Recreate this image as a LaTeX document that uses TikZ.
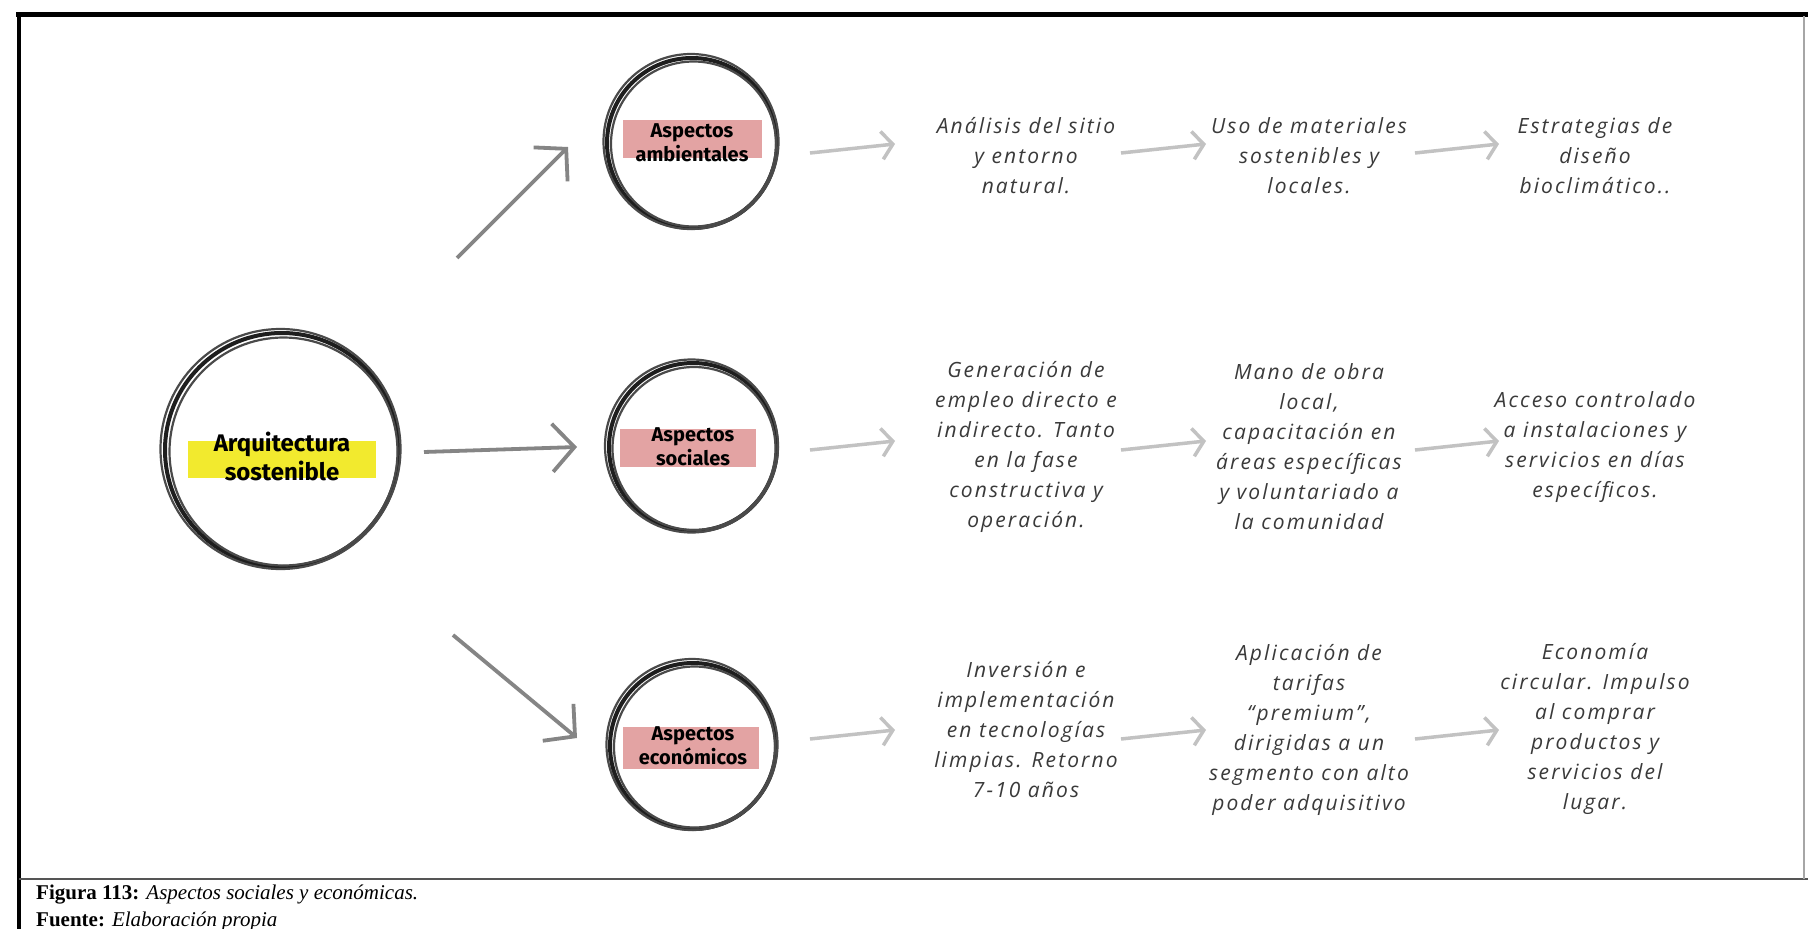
\documentclass[tikz,border=0pt]{standalone}
\usepackage{fontspec}
\setmainfont{Liberation Serif}
\newfontfamily\handfont{Open Sans}[LetterSpace=10]
\newfontfamily\brushfont{Fira Sans}
\usetikzlibrary{arrows.meta}
\definecolor{ringc}{HTML}{1E1E1E}
\definecolor{ringb}{HTML}{4A4A4A}
\definecolor{hlyellow}{HTML}{F2EA2E}
\definecolor{hlpink}{HTML}{E3A3A3}
\definecolor{handc}{HTML}{3A3A3A}
\definecolor{arrowc}{HTML}{858585}
\definecolor{smallc}{HTML}{C2C2C2}
\definecolor{framec}{HTML}{555555}
\begin{document}
\begin{tikzpicture}[x=1pt,y=-1pt,
  ring/.style={circle,draw=ringc,line width=4pt,inner sep=0pt,align=center,
    font=\brushfont\bfseries\fontsize{20}{24}\selectfont},
  bigring/.style={circle,draw=ringc,line width=4pt,inner sep=0pt},
  bigtext/.style={inner sep=0pt,align=center,font=\brushfont\bfseries\fontsize{24}{29}\selectfont},
  ringextra/.style={draw=ringb,line width=2.2pt},
  band/.style={inner sep=0pt,draw=none},
  hand/.style={font=\handfont\itshape\fontsize{21}{30}\selectfont,text=handc,align=center,inner sep=0pt},
  bigarrow/.style={draw=arrowc,line width=3.8pt,-{Straight Barb[length=22pt,width=48pt,line width=3.8pt]}},
  smallarrow/.style={draw=smallc,line width=3.5pt,-{Straight Barb[length=11pt,width=28pt,line width=3.5pt]}},
  capt/.style={anchor=base west,inner sep=0pt,font=\fontsize{21}{25}\selectfont}
]
\useasboundingbox (0,0) rectangle (1808,929);
\fill[white] (0,0) rectangle (1808,929);

% frame
\draw[line width=5pt,black] (16,14) -- (1808,14);
\draw[line width=4pt,black] (19,12) -- (19,929);
\draw[line width=2pt,framec] (19,879) -- (1808,879);
\draw[line width=1.5pt,gray!70] (1804,16) -- (1804,879);

% highlight bands
\node[band,fill=hlyellow,minimum width=188pt,minimum height=37pt] (b0) at (282,459) {};
\node[band,fill=hlpink,minimum width=139pt,minimum height=38pt] (b1) at (692,139) {};
\node[band,fill=hlpink,minimum width=136pt,minimum height=38pt] (b2) at (688,448) {};
\node[band,fill=hlpink,minimum width=136pt,minimum height=42pt] (b3) at (691,748) {};

% rings
\node[bigring,minimum size=234pt] (c0) at (282,450) {};
\node[bigtext] (l0) at (282,456) {Arquitectura\\sostenible};
\node[ring,minimum size=170pt] (c1) at (692,143) {Aspectos\\ambientales};
\node[ring,minimum size=168pt] (c2) at (693,447) {Aspectos\\sociales};
\node[ring,minimum size=166pt] (c3) at (693,746) {Aspectos\\económicos};

\draw[ringextra] ([shift={(1.5,1.5)}]c0.center) circle (114);
\draw[ringextra] ([shift={(-1.5,-1)}]c0.center) circle (120);
\draw[ringextra] ([shift={(1.5,1)}]c1.center) circle (82.5);
\draw[ringextra] ([shift={(-1,-1.5)}]c1.center) circle (87.5);
\draw[ringextra] ([shift={(1,1.5)}]c2.center) circle (81.5);
\draw[ringextra] ([shift={(-1.5,-1)}]c2.center) circle (86.5);
\draw[ringextra] ([shift={(1.5,1)}]c3.center) circle (80.5);
\draw[ringextra] ([shift={(-1,-1.5)}]c3.center) circle (85.5);

% big arrows
\coordinate (a1s) at (457,258); \coordinate (a1e) at (568,147);
\coordinate (a2s) at (424,452); \coordinate (a2e) at (577,447);
\coordinate (a3s) at (453,635); \coordinate (a3e) at (577,738);
\draw[bigarrow] (a1s) -- (a1e);
\draw[bigarrow] (a2s) -- (a2e);
\draw[bigarrow] (a3s) -- (a3e);

% texts
\node[hand] (t11) at (1026,156) {Análisis del sitio\\y entorno\\natural.};
\node[hand] (t12) at (1309,156) {Uso de materiales\\sostenibles y\\locales.};
\node[hand] (t13) at (1595,156) {Estrategias de\\diseño\\bioclimático..};
\node[hand] (t21) at (1026,447) {Generación de\\empleo directo e\\indirecto. Tanto\\en la fase\\constructiva y\\operación.};
\node[hand] (t22) at (1309,447) {Mano de obra\\local,\\capacitación en\\áreas específicas\\y voluntariado a\\la comunidad};
\node[hand] (t23) at (1595,447) {Acceso controlado\\a instalaciones y\\servicios en días\\específicos.};
\node[hand] (t31) at (1026,730) {Inversión e\\implementación\\en tecnologías\\limpias. Retorno\\7-10 años};
\node[hand] (t32) at (1309,730) {Aplicación de\\tarifas\\“premium”,\\dirigidas a un\\segmento con alto\\poder adquisitivo};
\node[hand] (t33) at (1595,729) {Economía\\circular. Impulso\\al comprar\\productos y\\servicios del\\lugar.};

% small arrows
\foreach \r/\y in {1/148,2/445,3/734}{
  \coordinate (s\r as) at (810,\y+5);  \coordinate (s\r ae) at (895,\y-4);
  \coordinate (s\r bs) at (1121,\y+5); \coordinate (s\r be) at (1206,\y-4);
  \coordinate (s\r cs) at (1415,\y+5); \coordinate (s\r ce) at (1499,\y-4);
  \draw[smallarrow] (s\r as) -- (s\r ae);
  \draw[smallarrow] (s\r bs) -- (s\r be);
  \draw[smallarrow] (s\r cs) -- (s\r ce);
}

% caption
\node[capt] (cap1) at (36,899) {\textbf{Figura 113:} \textit{Aspectos sociales y económicas.}};
\node[capt] (cap2) at (36,926) {\textbf{Fuente:} \textit{Elaboración propia}};
\end{tikzpicture}
\end{document}
